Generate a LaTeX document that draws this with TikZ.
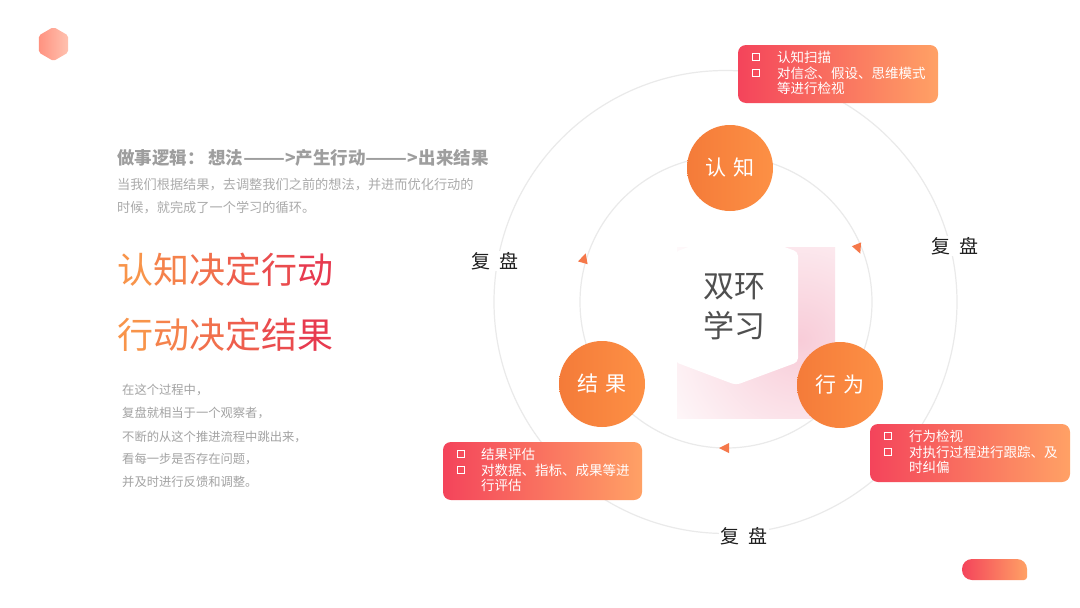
\documentclass[tikz,border=0pt]{standalone}
\usepackage{fontspec}
\setmainfont{Noto Sans CJK SC}
\usetikzlibrary{shapes.geometric}
\definecolor{ringc}{HTML}{EAEAEA}
\definecolor{boxr}{HTML}{F4445B}
\definecolor{boxo}{HTML}{FFA165}
\definecolor{balla}{HTML}{F47B39}
\definecolor{ballb}{HTML}{FD9045}
\definecolor{tric}{HTML}{F5784A}
\definecolor{hexa}{HTML}{FF9280}
\definecolor{hexb}{HTML}{FFC2B0}
\definecolor{pinks}{HTML}{F8CCD8}
\definecolor{headg}{HTML}{9E9E9E}
\definecolor{subg}{HTML}{ABABAB}
\definecolor{parag}{HTML}{A3A3A3}
\definecolor{centg}{HTML}{4F4F4F}
\definecolor{bigo}{HTML}{F8944A}
\definecolor{bigr}{HTML}{E73A4F}
\definecolor{fupanc}{HTML}{1F1F1F}
\tikzset{
  ring/.style={draw=ringc, line width=1.2pt},
  ball/.style={circle, minimum size=86pt, inner sep=0pt, left color=balla, right color=ballb, text=white, font=\fontsize{21}{21}\selectfont},
  infobox/.style={rectangle, rounded corners=8pt, left color=boxr, right color=boxo, inner sep=0pt},
  btxt/.style={anchor=west, inner sep=0pt, text=white, font=\fontsize{13.5}{14}\selectfont},
  bulletbox/.style={rectangle, draw=white, line width=1.4pt, minimum size=7.5pt, inner sep=0pt},
  fupan/.style={fill=white, inner sep=1.5pt, text=fupanc, font=\fontsize{19}{19}\selectfont},
  ltxt/.style={anchor=west, inner sep=0pt},
  tri/.style={fill=tric}
}
\newcommand{\longdash}{\scalebox{1.4}[1]{——}}
\begin{document}
\begin{tikzpicture}[x=1pt,y=-1pt]
\path[use as bounding box, fill=white] (0,0) rectangle (1080,608);
% small hexagon top-left
\shade[left color=hexa, right color=hexb, rounded corners=2pt] (53.5,27) -- (68.2,35.5) -- (68.2,52.5) -- (53.5,61) -- (38.8,52.5) -- (38.8,35.5) -- cycle;
% pink shadow behind center hexagon
\begin{scope}
\clip (677,247) rectangle (835,418);
\shade[inner color=pinks, outer color=white] (800,340) circle (175);
\end{scope}
% center hexagon
\fill[white, rounded corners=4pt] (736,229) -- (798,252) -- (798,362) -- (736,385) -- (675,362) -- (675,252) -- cycle;
\node[align=center, inner sep=0pt, text=centg, font=\fontsize{31}{40}\selectfont] (center) at (734,307) {双环\\学习};
% rings
\draw[ring] (725.5,302) circle (231.5);
\draw[ring] (726,302) circle (146);
% direction markers
\fill[tri] (585.7,253.3) -- (578,261.4) -- (587.6,264.2) -- cycle;
\fill[tri] (860.3,253.6) -- (861.1,242.4) -- (851.9,246.2) -- cycle;
\fill[tri] (719,448) -- (729,443) -- (729,453) -- cycle;
% main nodes
\node[ball] (rz) at (730,168) {认\hspace{0.35em}知};
\node[ball] (xw) at (840,385) {行\hspace{0.35em}为};
\node[ball] (jg) at (602,384) {结\hspace{0.35em}果};
% review labels
\node[fupan] (fp1) at (495,261) {复\hspace{0.45em}盘};
\node[fupan] (fp2) at (955,246) {复\hspace{0.45em}盘};
\node[fupan] (fp3) at (744,536) {复\hspace{0.45em}盘};
% info boxes
\node[infobox, minimum width=200pt, minimum height=58pt] (b1) at (838,74) {};
\node[bulletbox] (b1p1) at (756,57) {};
\node[bulletbox] (b1p2) at (756,73) {};
\node[btxt] (b1t1) at (777,57) {认知扫描};
\node[btxt] (b1t2) at (777,73) {对信念、假设、思维模式};
\node[btxt] (b1t3) at (777,88.5) {等进行检视};
\node[infobox, minimum width=200pt, minimum height=58pt] (b2) at (970,453) {};
\node[bulletbox] (b2p1) at (888,436) {};
\node[bulletbox] (b2p2) at (888,452) {};
\node[btxt] (b2t1) at (909,436) {行为检视};
\node[btxt] (b2t2) at (909,452) {对执行过程进行跟踪、及};
\node[btxt] (b2t3) at (909,467.5) {时纠偏};
\node[infobox, minimum width=199pt, minimum height=58pt] (b3) at (542.5,471) {};
\node[bulletbox] (b3p1) at (461,454) {};
\node[bulletbox] (b3p2) at (461,470) {};
\node[btxt] (b3t1) at (481,454) {结果评估};
\node[btxt] (b3t2) at (481,470) {对数据、指标、成果等进};
\node[btxt] (b3t3) at (481,485.5) {行评估};
% bottom-right pill
\shade[left color=boxr, right color=boxo] (985,580) [rounded corners=10pt] -- (962,580) -- (962,559) -- (1027,559) [rounded corners=3pt] -- (1027,580) -- cycle;
% left texts
\node[ltxt, text=headg, font=\fontsize{17.5}{18}\selectfont\bfseries] (head) at (117,158) {做事逻辑：\hspace{0.2em}想法\longdash>产生行动\longdash>出来结果};
\node[ltxt, text=subg, font=\fontsize{13.2}{14}\selectfont] (sub1) at (117,185) {当我们根据结果，去调整我们之前的想法，并进而优化行动的};
\node[ltxt, text=subg, font=\fontsize{13.2}{14}\selectfont] (sub2) at (117,208) {时候，就完成了一个学习的循环。};
\node[ltxt, font=\fontsize{36}{36}\selectfont] (big1) at (117,270) {\textcolor{bigr!0!bigo}{认}\textcolor{bigr!20!bigo}{知}\textcolor{bigr!40!bigo}{决}\textcolor{bigr!60!bigo}{定}\textcolor{bigr!80!bigo}{行}\textcolor{bigr!100!bigo}{动}};
\node[ltxt, font=\fontsize{36}{36}\selectfont] (big2) at (117,335) {\textcolor{bigr!0!bigo}{行}\textcolor{bigr!20!bigo}{动}\textcolor{bigr!40!bigo}{决}\textcolor{bigr!60!bigo}{定}\textcolor{bigr!80!bigo}{结}\textcolor{bigr!100!bigo}{果}};
\node[ltxt, text=parag, font=\fontsize{12.3}{13}\selectfont] (p1) at (122,390) {在这个过程中，};
\node[ltxt, text=parag, font=\fontsize{12.3}{13}\selectfont] (p2) at (122,413) {复盘就相当于一个观察者，};
\node[ltxt, text=parag, font=\fontsize{12.3}{13}\selectfont] (p3) at (122,437) {不断的从这个推进流程中跳出来，};
\node[ltxt, text=parag, font=\fontsize{12.3}{13}\selectfont] (p4) at (122,459) {看每一步是否存在问题，};
\node[ltxt, text=parag, font=\fontsize{12.3}{13}\selectfont] (p5) at (122,482) {并及时进行反馈和调整。};
\end{tikzpicture}
\end{document}
